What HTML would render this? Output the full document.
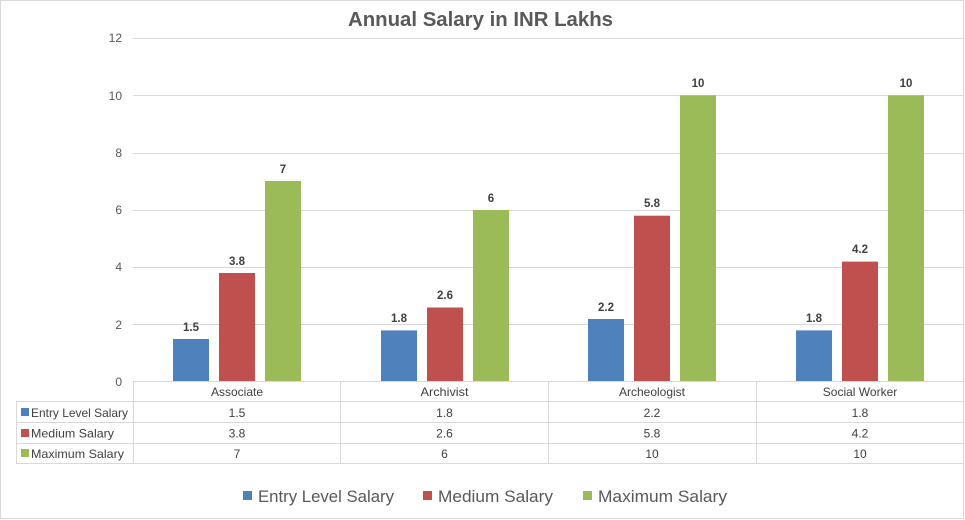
<!DOCTYPE html>
<html><head><meta charset="utf-8"><style>
html,body{margin:0;padding:0;background:#fff;}
svg{display:block;}
text{font-family:"Liberation Sans",sans-serif;}
</style></head><body>
<svg width="965" height="520" viewBox="0 0 965 520" xmlns="http://www.w3.org/2000/svg">
<rect x="0.5" y="0.5" width="963" height="518" fill="#fff" stroke="#d9d9d9" stroke-width="1"/>
<text x="480.5" y="26" font-size="20" font-weight="bold" fill="#595959" text-anchor="middle" textLength="265" lengthAdjust="spacingAndGlyphs">Annual Salary in INR Lakhs</text>
<g stroke="#d9d9d9" stroke-width="1">
<line x1="133" y1="38.5" x2="963" y2="38.5"/>
<line x1="133" y1="95.5" x2="963" y2="95.5"/>
<line x1="133" y1="153.5" x2="963" y2="153.5"/>
<line x1="133" y1="210.5" x2="963" y2="210.5"/>
<line x1="133" y1="267.5" x2="963" y2="267.5"/>
<line x1="133" y1="324.5" x2="963" y2="324.5"/>
</g>
<g font-size="12" fill="#595959" text-anchor="end">
<text x="122" y="42">12</text>
<text x="122" y="100">10</text>
<text x="122" y="157">8</text>
<text x="122" y="214">6</text>
<text x="122" y="271">4</text>
<text x="122" y="329">2</text>
<text x="122" y="386">0</text>
</g>
<!-- bars: scale 28.667 per unit, base 382 -->
<g>
<rect x="173" y="339" width="36" height="43" fill="#4f81bd"/>
<rect x="219" y="273" width="36" height="109" fill="#c0504d"/>
<rect x="265" y="181" width="36" height="201" fill="#9bbb59"/>
<rect x="381" y="330.4" width="36" height="51.6" fill="#4f81bd"/>
<rect x="427" y="307.5" width="36" height="74.5" fill="#c0504d"/>
<rect x="473" y="210" width="36" height="172" fill="#9bbb59"/>
<rect x="588" y="319" width="36" height="63" fill="#4f81bd"/>
<rect x="634" y="215.7" width="36" height="166.3" fill="#c0504d"/>
<rect x="680" y="95.3" width="36" height="286.7" fill="#9bbb59"/>
<rect x="796" y="330.4" width="36" height="51.6" fill="#4f81bd"/>
<rect x="842" y="261.6" width="36" height="120.4" fill="#c0504d"/>
<rect x="888" y="95.3" width="36" height="286.7" fill="#9bbb59"/>
</g>
<g font-size="11.5" font-weight="bold" fill="#404040" text-anchor="middle">
<text x="191" y="331">1.5</text>
<text x="237" y="265">3.8</text>
<text x="283" y="173">7</text>
<text x="399" y="322">1.8</text>
<text x="445" y="299">2.6</text>
<text x="491" y="202">6</text>
<text x="606" y="311">2.2</text>
<text x="652" y="207">5.8</text>
<text x="698" y="87">10</text>
<text x="814" y="322">1.8</text>
<text x="860" y="253">4.2</text>
<text x="906" y="87">10</text>
</g>
<!-- data table -->
<g stroke="#d9d9d9" stroke-width="1">
<line x1="133" y1="381.5" x2="963" y2="381.5"/>
<line x1="16" y1="401.5" x2="963" y2="401.5"/>
<line x1="16" y1="422.5" x2="963" y2="422.5"/>
<line x1="16" y1="443.5" x2="963" y2="443.5"/>
<line x1="16" y1="463.5" x2="963" y2="463.5"/>
<line x1="16.5" y1="401" x2="16.5" y2="464"/>
<line x1="133.5" y1="381" x2="133.5" y2="464"/>
<line x1="340.5" y1="381" x2="340.5" y2="464"/>
<line x1="548.5" y1="381" x2="548.5" y2="464"/>
<line x1="756.5" y1="381" x2="756.5" y2="464"/>
<line x1="963.5" y1="381" x2="963.5" y2="464"/>
</g>
<g font-size="12" fill="#404040" text-anchor="middle">
<text x="237" y="396">Associate</text>
<text x="444.5" y="396" textLength="48" lengthAdjust="spacingAndGlyphs">Archivist</text>
<text x="652" y="396">Archeologist</text>
<text x="860" y="396">Social Worker</text>
<text x="237" y="417">1.5</text>
<text x="444.5" y="417">1.8</text>
<text x="652" y="417">2.2</text>
<text x="860" y="417">1.8</text>
<text x="237" y="437.5">3.8</text>
<text x="444.5" y="437.5">2.6</text>
<text x="652" y="437.5">5.8</text>
<text x="860" y="437.5">4.2</text>
<text x="237" y="458">7</text>
<text x="444.5" y="458">6</text>
<text x="652" y="458">10</text>
<text x="860" y="458">10</text>
</g>
<rect x="21" y="408" width="8" height="8" fill="#4f81bd"/>
<rect x="21" y="429" width="8" height="8" fill="#c0504d"/>
<rect x="21" y="449" width="8" height="8" fill="#9bbb59"/>
<g font-size="12" fill="#404040">
<text x="31" y="417" textLength="97" lengthAdjust="spacingAndGlyphs">Entry Level Salary</text>
<text x="31" y="437.5" textLength="83" lengthAdjust="spacingAndGlyphs">Medium Salary</text>
<text x="31" y="458" textLength="93" lengthAdjust="spacingAndGlyphs">Maximum Salary</text>
</g>
<!-- legend -->
<rect x="243" y="491" width="9" height="9" fill="#4f81bd"/>
<rect x="423" y="491" width="9" height="9" fill="#c0504d"/>
<rect x="583" y="491" width="9" height="9" fill="#9bbb59"/>
<g font-size="17" fill="#595959">
<text x="258" y="502" textLength="136" lengthAdjust="spacingAndGlyphs">Entry Level Salary</text>
<text x="438" y="502" textLength="115" lengthAdjust="spacingAndGlyphs">Medium Salary</text>
<text x="598" y="502" textLength="129" lengthAdjust="spacingAndGlyphs">Maximum Salary</text>
</g>
</svg>
</body></html>
